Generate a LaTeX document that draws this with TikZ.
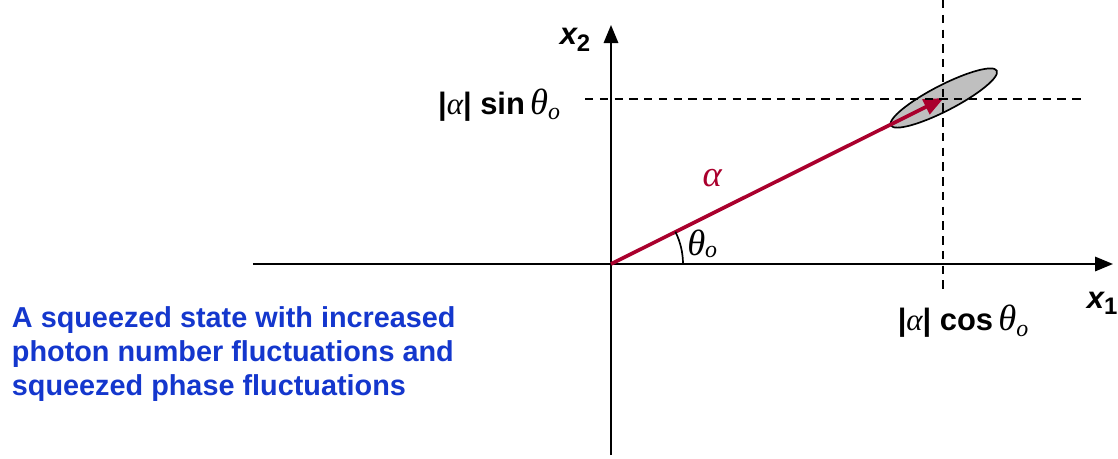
\documentclass[tikz,border=0pt]{standalone}
\usepackage{fontspec}
\setmainfont{Liberation Sans}
\newfontfamily\greekfont{Liberation Serif}
\usepackage{xcolor}
\usetikzlibrary{arrows.meta,positioning,calc}

\definecolor{vecred}{RGB}{170,0,45}
\definecolor{noteblue}{RGB}{20,55,205}
\newcommand{\gk}[1]{{\greekfont\mdseries\itshape #1}}
\newcommand{\thetao}{{\fontsize{26}{28}\selectfont\gk{θ}}\raisebox{-0.35ex}{\gk{\fontsize{17}{18}\selectfont o}}}
\newcommand{\axlab}[2]{{\bfseries\itshape #1}\raisebox{-0.4ex}{\bfseries\fontsize{17}{18}\selectfont #2}}

\begin{document}
\begin{tikzpicture}[
  >={Triangle[length=0.45cm, width=0.36cm]},
  axis/.style={line width=1.4pt, ->},
  guide/.style={line width=1.3pt, dash pattern=on 6pt off 4.5pt},
  lbl/.style={font=\fontsize{22}{24}\selectfont\bfseries},
]
\useasboundingbox (-15.275,-4.85) rectangle (12.675,6.6);

% Points
\coordinate (O) at (0,0);
\coordinate (x1l) at (-8.95,0);
\coordinate (x1r) at (12.55,0);
\coordinate (x2b) at (0,-4.775);
\coordinate (x2t) at (0,5.975);
\coordinate (P) at (8.32,4.15);
\coordinate (vt) at (8.3,6.6);
\coordinate (vb) at (8.3,-0.65);
\coordinate (hl) at (-0.65,4.125);
\coordinate (hr) at (11.85,4.125);

% Axes
\draw[axis] (x1l) -- (x1r);
\draw[axis] (x2b) -- (x2t);

% Uncertainty ellipse
\draw[fill=gray!50, line width=1.2pt, rotate around={27.3:(P)}] (P) ellipse (1.49 and 0.32);

% Coherent amplitude
\draw[vecred, line width=2.6pt, -{Triangle[length=0.5cm, width=0.4cm]}] (O) -- (P);

% Projections
\draw[guide] (vt) -- (vb);
\draw[guide] (hl) -- (hr);

% Angle arc
\draw[line width=1.2pt] (1.8,0) arc (0:26.6:1.8);

% Labels
\node[lbl] (lx2) at (-0.9,5.6) {\axlab{x}{2}};
\node[lbl] (lx1) at (12.28,-0.98) {\axlab{x}{1}};
\node[lbl, anchor=east] (lsin) at (-1.15,3.98) {|\gk{α}| sin\,\thetao};
\node[lbl, anchor=north] (lcos) at (8.8,-0.9) {|\gk{α}| cos\,\thetao};
\node[font=\fontsize{26}{28}\selectfont, text=vecred] (lalpha) at (2.53,2.15) {\gk{α}};
\node (ltheta) at (2.28,0.5) {\thetao};

% Note
\node[anchor=north west, align=left, text=noteblue, font=\fontsize{20.5}{24}\selectfont\bfseries] (note) at (-15.1,-0.95)
  {A squeezed state with increased\\photon number fluctuations and\\squeezed phase fluctuations};
\end{tikzpicture}
\end{document}
